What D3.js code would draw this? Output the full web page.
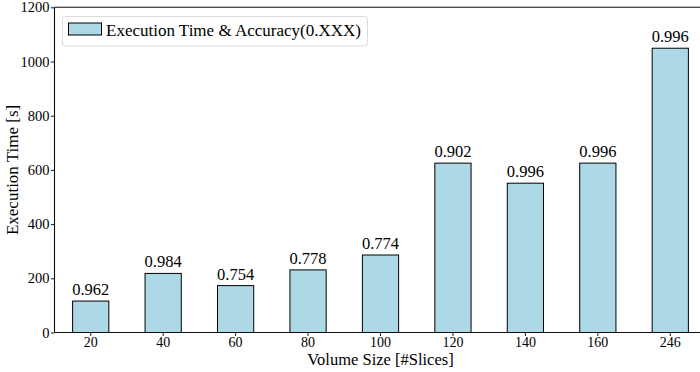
<!DOCTYPE html>
<html>
<head>
<meta charset="utf-8">
<script src="https://cdn.jsdelivr.net/npm/d3@7"></script>
<style>
  html, body { margin: 0; padding: 0; background: #fff; }
  svg { display: block; }
  text { font-family: "Liberation Serif", "DejaVu Serif", serif; fill: #000; }
</style>
</head>
<body>
<svg id="chart" width="700" height="372"></svg>
<script>
// Volume sizes (number of slices) on the x axis
const volumeSizes = ["20", "40", "60", "80", "100", "120", "140", "160", "246"];
// Execution time in seconds for each volume size
const executionTimes = [116, 218, 173, 231, 286, 625, 551, 625, 1049];
// Accuracy reached for each volume size, printed above its bar
const accuracies = ["0.962", "0.984", "0.754", "0.778", "0.774", "0.902", "0.996", "0.996", "0.996"];
// Y axis ticks
const yTicks = [0, 200, 400, 600, 800, 1000, 1200];

const svg = d3.select("#chart");
const plotLeft = 54.5, plotRight = 706.5, plotTop = 7.3, plotBottom = 332.5;

const x = d3.scaleBand()
  .domain(volumeSizes)
  .range([plotLeft, plotRight])
  .paddingInner(0.5)
  .paddingOuter(0.25);

const y = d3.scaleLinear()
  .domain([0, 1200])
  .range([plotBottom, plotTop]);

// Bars
svg.append("g")
  .selectAll("rect")
  .data(volumeSizes)
  .join("rect")
  .attr("x", d => x(d))
  .attr("y", (d, i) => y(executionTimes[i]))
  .attr("width", x.bandwidth())
  .attr("height", (d, i) => y(0) - y(executionTimes[i]))
  .attr("fill", "#add8e6")
  .attr("stroke", "#000")
  .attr("stroke-width", 1);

// Accuracy labels above bars
svg.append("g")
  .selectAll("text")
  .data(volumeSizes)
  .join("text")
  .attr("x", d => x(d) + x.bandwidth() / 2)
  .attr("y", (d, i) => y(executionTimes[i]) - 6)
  .attr("text-anchor", "middle")
  .style("font-size", "16.5px")
  .text((d, i) => accuracies[i]);

// X axis
const xAxis = svg.append("g")
  .attr("transform", `translate(0,${plotBottom})`)
  .call(d3.axisBottom(x).tickSize(3.5).tickSizeOuter(0));
xAxis.select(".domain").remove();
xAxis.selectAll("text").style("font-size", "14px").attr("dy", 0).attr("y", 14);
xAxis.selectAll("line").attr("stroke", "#000").attr("stroke-width", 0.9);

// Y axis
const yAxis = svg.append("g")
  .attr("transform", `translate(${plotLeft},0)`)
  .call(d3.axisLeft(y).tickValues(yTicks).tickFormat(d3.format("d")).tickSize(3.5).tickSizeOuter(0));
yAxis.select(".domain").remove();
yAxis.selectAll("text").style("font-size", "14.5px").attr("x", -5);
yAxis.selectAll("line").attr("stroke", "#000").attr("stroke-width", 0.9);

// Frame: left, top and bottom spines (right side lies beyond the canvas)
const spines = svg.append("g").attr("stroke", "#111").attr("stroke-width", 1.1).attr("fill", "none");
spines.append("line").attr("x1", plotLeft).attr("x2", plotLeft).attr("y1", plotTop).attr("y2", plotBottom);
spines.append("line").attr("x1", plotLeft).attr("x2", 700).attr("y1", plotTop).attr("y2", plotTop);
spines.append("line").attr("x1", plotLeft).attr("x2", 700).attr("y1", plotBottom).attr("y2", plotBottom);

// Axis titles
svg.append("text")
  .attr("x", (plotLeft + plotRight) / 2)
  .attr("y", 364.5)
  .attr("text-anchor", "middle")
  .style("font-size", "16.5px")
  .text("Volume Size [#Slices]");

svg.append("text")
  .attr("transform", `translate(18,${(plotTop + plotBottom) / 2}) rotate(-90)`)
  .attr("text-anchor", "middle")
  .style("font-size", "17px")
  .text("Execution Time [s]");

// Legend
const legend = svg.append("g");
legend.append("rect")
  .attr("x", 62.5).attr("y", 16.5)
  .attr("width", 305).attr("height", 29.5)
  .attr("rx", 3).attr("ry", 3)
  .attr("fill", "#fff").attr("fill-opacity", 0.8)
  .attr("stroke", "#dcdcdc").attr("stroke-width", 1);
legend.append("rect")
  .attr("x", 68.5).attr("y", 23)
  .attr("width", 33).attr("height", 12)
  .attr("fill", "#add8e6").attr("stroke", "#000").attr("stroke-width", 1);
legend.append("text")
  .attr("x", 106)
  .attr("y", 36)
  .style("font-size", "17px")
  .text("Execution Time & Accuracy(0.XXX)");
</script>
</body>
</html>
